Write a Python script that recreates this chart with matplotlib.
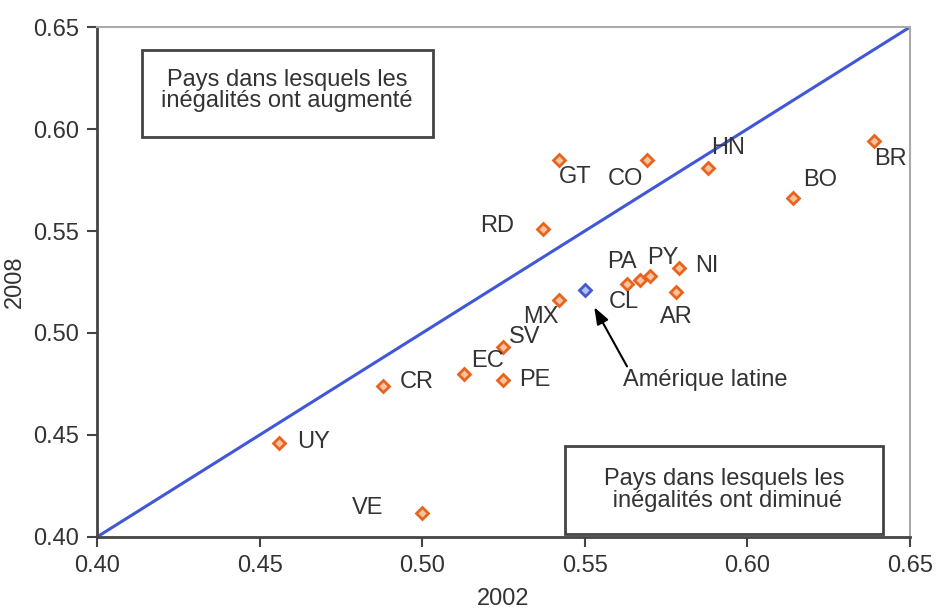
import matplotlib
matplotlib.use('Agg')
import matplotlib.pyplot as plt
from matplotlib.patches import Rectangle

# ── données (Gini 2002 vs 2008) ──────────────────────────────────────────────
pays   = ['GT', 'CO', 'HN', 'BR', 'BO', 'RD', 'NI', 'AR', 'PA', 'CL', 'PY',
          'MX', 'SV', 'EC', 'PE', 'CR', 'UY', 'VE']
g2002  = [0.542, 0.569, 0.588, 0.639, 0.614, 0.537, 0.579, 0.578, 0.563,
          0.567, 0.570, 0.542, 0.525, 0.513, 0.525, 0.488, 0.456, 0.500]
g2008  = [0.585, 0.585, 0.581, 0.594, 0.566, 0.551, 0.532, 0.520, 0.524,
          0.526, 0.528, 0.516, 0.493, 0.480, 0.477, 0.474, 0.446, 0.412]

latam_2002 = 0.550
latam_2008 = 0.521

diag = [0.40, 0.65]
ticks = [0.40, 0.45, 0.50, 0.55, 0.60, 0.65]

# ── placement des étiquettes (offset en pixels, alignement) ──────────────────
LABEL_POS = {
    'GT': (0, -17, 'left'),  'CO': (-3, -19, 'right'), 'HN': (3, 20, 'left'),
    'BR': (0, -18, 'left'),  'BO': (10, 18, 'left'),   'RD': (-28, 3, 'right'),
    'NI': (16, 2, 'left'),   'AR': (0, -25, 'center'), 'PA': (10, 22, 'right'),
    'CL': (-31, -22, 'left'), 'PY': (-3, 18, 'left'),  'MX': (0, -17, 'right'),
    'SV': (5, 10, 'left'),   'EC': (7, 13, 'left'),    'PE': (16, 0, 'left'),
    'CR': (17, 4, 'left'),   'UY': (18, 1, 'left'),    'VE': (-39, 5, 'right'),
}

FS     = 17
C_TXT  = '#333333'
C_ORG  = '#e8641e'
C_BLUE = '#4157d8'

plt.rcParams['font.family'] = ['Liberation Sans', 'DejaVu Sans']

fig = plt.figure(figsize=(9.37, 6.10), dpi=100, facecolor='white')
ax = fig.add_axes([0.1035, 0.1197, 0.8677, 0.836])

ax.plot(diag, diag, color=C_BLUE, linewidth=2.2, zorder=2)

ax.plot(g2002, g2008, linestyle='none', marker='D', markersize=6,
        markerfacecolor='#f8c4a0', markeredgecolor=C_ORG,
        markeredgewidth=2, zorder=3)
ax.plot([latam_2002], [latam_2008], linestyle='none', marker='D',
        markersize=6, markerfacecolor='#b3c0f2', markeredgecolor=C_BLUE,
        markeredgewidth=2, zorder=3)

for p, x, y in zip(pays, g2002, g2008):
    dx, dy, ha = LABEL_POS[p]
    ax.annotate(p, (x, y), xytext=(dx, dy), textcoords='offset pixels',
                ha=ha, va='center', fontsize=FS, color=C_TXT)

ax.annotate('Amérique latine', (latam_2002, latam_2008), xytext=(38, -90),
            textcoords='offset pixels', ha='left', va='center',
            fontsize=FS, color=C_TXT,
            arrowprops=dict(arrowstyle='-|>,head_length=0.6,head_width=0.22',
                            color='black', lw=1.5, relpos=(0.035, 1.0),
                            shrinkA=0, shrinkB=14))

# ── encadrés ─────────────────────────────────────────────────────────────────
ax.add_patch(Rectangle((0.055, 0.784), 0.358, 0.171, transform=ax.transAxes,
                       facecolor='white', edgecolor='#444444', lw=2, zorder=4))
ax.text(0.234, 0.876, 'Pays dans lesquels les\ninégalités ont augmenté',
        transform=ax.transAxes, ha='center', va='center', fontsize=FS,
        color=C_TXT, linespacing=0.95, zorder=5)

ax.add_patch(Rectangle((0.576, 0.006), 0.391, 0.172, transform=ax.transAxes,
                       facecolor='white', edgecolor='#444444', lw=2, zorder=4))
ax.text(0.771, 0.092, 'Pays dans lesquels les\n inégalités ont diminué',
        transform=ax.transAxes, ha='center', va='center', fontsize=FS,
        color=C_TXT, linespacing=0.95, zorder=5)

# ── axes ─────────────────────────────────────────────────────────────────────
ax.set_xlim(0.40, 0.65)
ax.set_ylim(0.40, 0.65)
ax.set_xticks(ticks)
ax.set_yticks(ticks)
ax.set_xticklabels([f'{t:.2f}' for t in ticks])
ax.set_yticklabels([f'{t:.2f}' for t in ticks])
ax.tick_params(direction='out', length=7, width=1.5, colors='#444444',
               labelcolor=C_TXT, labelsize=FS, pad=6)
for s in ['left', 'bottom']:
    ax.spines[s].set_color('#444444')
    ax.spines[s].set_linewidth(2)
for s in ['top', 'right']:
    ax.spines[s].set_color('#aaaaaa')
    ax.spines[s].set_linewidth(1.5)

ax.set_xlabel('2002', fontsize=FS, color=C_TXT, labelpad=8)
ax.set_ylabel('2008', fontsize=FS, color=C_TXT, labelpad=5)

plt.savefig('out.png', dpi=100, facecolor='white')
plt.close()
